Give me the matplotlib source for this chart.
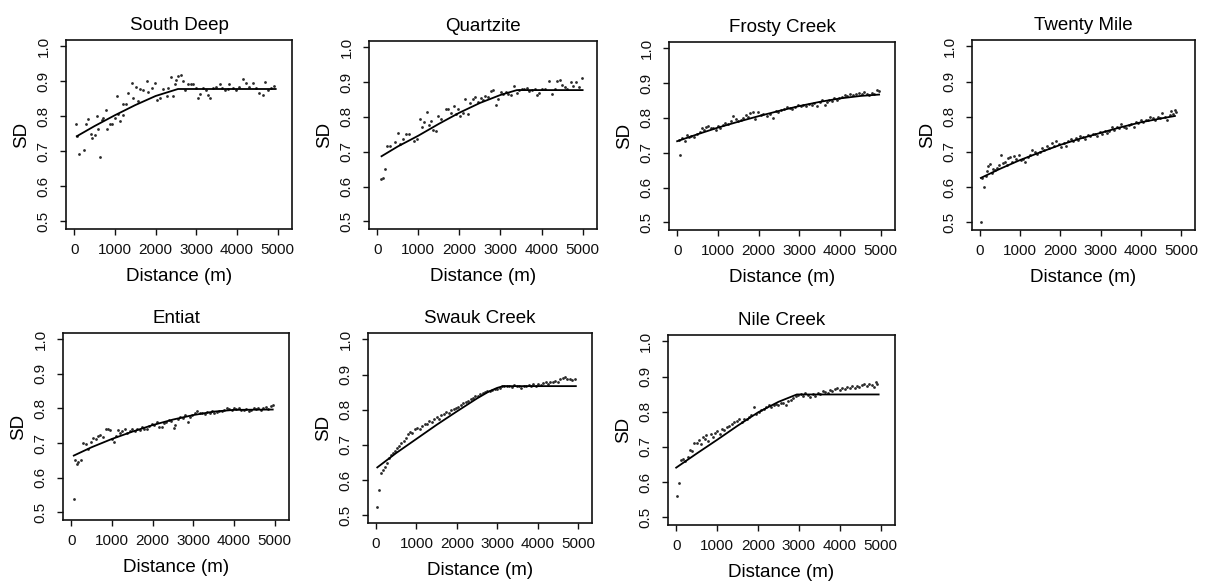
import matplotlib
matplotlib.use("Agg")
import matplotlib.pyplot as plt

plt.rcParams['font.family'] = ['Liberation Sans', 'DejaVu Sans']

# (distance m, SD)
southDeepPts = [(50, 0.779), (110, 0.691), (65, 0.745), (230, 0.703), (290, 0.777), (350, 0.791), (410, 0.750),
                (450, 0.739), (500, 0.746), (555, 0.802), (595, 0.763), (640, 0.683), (680, 0.789), (720, 0.796),
                (785, 0.817), (815, 0.764), (880, 0.777), (920, 0.779), (1000, 0.796), (1060, 0.858), (1085, 0.807),
                (1125, 0.786), (1190, 0.803), (1205, 0.834), (1270, 0.834), (1330, 0.867), (1410, 0.896),
                (1450, 0.853), (1515, 0.885), (1575, 0.845), (1615, 0.879), (1695, 0.874), (1780, 0.901),
                (1820, 0.870), (1900, 0.880), (1980, 0.896), (2040, 0.848), (2105, 0.853), (2185, 0.877),
                (2270, 0.858), (2310, 0.882), (2390, 0.912), (2430, 0.858), (2470, 0.891), (2510, 0.903),
                (2555, 0.915), (2635, 0.918), (2675, 0.901), (2715, 0.874), (2800, 0.893), (2880, 0.893),
                (2920, 0.893), (3000, 0.882), (3040, 0.853), (3085, 0.865), (3165, 0.880), (3230, 0.874),
                (3285, 0.861), (3345, 0.853), (3410, 0.880), (3490, 0.884), (3575, 0.891), (3640, 0.880),
                (3695, 0.874), (3775, 0.877), (3815, 0.893), (3900, 0.882), (3980, 0.874), (4060, 0.884),
                (4145, 0.908), (4225, 0.896), (4305, 0.884), (4390, 0.896), (4470, 0.880), (4550, 0.867),
                (4635, 0.861), (4675, 0.899), (4755, 0.874), (4835, 0.882), (4920, 0.886)]
southDeepFit = [(65, 0.743), (500, 0.772), (1000, 0.803), (1500, 0.832), (2000, 0.858), (2550, 0.878), (4950, 0.878)]

quartzitePts = [(90, 0.622), (150, 0.624), (190, 0.650), (245, 0.715), (315, 0.717), (435, 0.729), (495, 0.755),
                (560, 0.722), (625, 0.736), (705, 0.750), (765, 0.750), (890, 0.731), (970, 0.736), (1035, 0.793),
                (1095, 0.770), (1150, 0.784), (1200, 0.814), (1260, 0.776), (1315, 0.789), (1365, 0.763),
                (1425, 0.760), (1480, 0.803), (1560, 0.793), (1670, 0.824), (1725, 0.822), (1795, 0.812),
                (1860, 0.830), (1915, 0.808), (1975, 0.824), (2025, 0.803), (2080, 0.812), (2140, 0.852),
                (2205, 0.808), (2270, 0.841), (2325, 0.852), (2385, 0.858), (2450, 0.843), (2515, 0.855),
                (2575, 0.849), (2630, 0.860), (2700, 0.857), (2765, 0.874), (2820, 0.877), (2885, 0.833),
                (2945, 0.852), (3010, 0.871), (3065, 0.865), (3125, 0.871), (3190, 0.867), (3255, 0.862),
                (3340, 0.890), (3395, 0.870), (3455, 0.877), (3520, 0.881), (3585, 0.879), (3645, 0.884),
                (3700, 0.874), (3765, 0.877), (3830, 0.879), (3900, 0.862), (3945, 0.868), (4015, 0.879),
                (4095, 0.881), (4180, 0.903), (4245, 0.865), (4325, 0.879), (4385, 0.903), (4440, 0.906),
                (4505, 0.893), (4570, 0.887), (4630, 0.881), (4710, 0.900), (4770, 0.890), (4835, 0.900),
                (4900, 0.887), (4985, 0.912)]
quartziteFit = [(105, 0.687), (500, 0.715), (1000, 0.746), (1500, 0.780), (2000, 0.812), (2500, 0.840),
                (3000, 0.863), (3400, 0.877), (5000, 0.877)]

frostyPts = [(50, 0.737), (80, 0.694), (130, 0.741), (200, 0.735), (250, 0.752), (300, 0.745), (350, 0.748),
             (420, 0.746), (480, 0.753), (550, 0.760), (600, 0.770), (650, 0.765), (700, 0.774), (760, 0.778),
             (820, 0.770), (880, 0.772), (950, 0.766), (1000, 0.778), (1050, 0.772), (1120, 0.780), (1180, 0.786),
             (1250, 0.782), (1320, 0.792), (1380, 0.805), (1440, 0.798), (1500, 0.790), (1560, 0.795),
             (1620, 0.800), (1680, 0.808), (1740, 0.804), (1800, 0.815), (1860, 0.818), (1920, 0.797),
             (1980, 0.816), (2050, 0.808), (2120, 0.810), (2200, 0.806), (2280, 0.812), (2350, 0.800),
             (2420, 0.820), (2480, 0.816), (2550, 0.822), (2620, 0.826), (2700, 0.830), (2760, 0.828),
             (2830, 0.826), (2900, 0.832), (2970, 0.836), (3040, 0.834), (3100, 0.838), (3170, 0.833),
             (3240, 0.840), (3300, 0.836), (3370, 0.842), (3440, 0.835), (3500, 0.846), (3560, 0.850),
             (3620, 0.838), (3680, 0.845), (3740, 0.852), (3800, 0.848), (3860, 0.856), (3920, 0.852),
             (3980, 0.858), (4050, 0.860), (4120, 0.866), (4180, 0.862), (4250, 0.870), (4320, 0.866),
             (4400, 0.868), (4460, 0.872), (4530, 0.869), (4600, 0.875), (4660, 0.870), (4720, 0.866),
             (4780, 0.872), (4840, 0.868), (4900, 0.880), (4950, 0.876)]
frostyFit = [(0, 0.733), (500, 0.753), (1000, 0.772), (1500, 0.789), (2000, 0.805), (2500, 0.820),
             (3000, 0.834), (3500, 0.846), (4000, 0.856), (4500, 0.863), (4960, 0.867)]

twentyMilePts = [(30, 0.500), (60, 0.625), (100, 0.600), (140, 0.632), (180, 0.645), (210, 0.660), (250, 0.666),
                 (290, 0.640), (330, 0.652), (370, 0.648), (420, 0.655), (470, 0.662), (520, 0.690), (560, 0.668),
                 (610, 0.672), (660, 0.662), (700, 0.684), (750, 0.686), (800, 0.670), (850, 0.688), (900, 0.681),
                 (960, 0.690), (1010, 0.676), (1070, 0.680), (1130, 0.672), (1190, 0.685), (1250, 0.690),
                 (1300, 0.705), (1360, 0.700), (1420, 0.694), (1480, 0.700), (1540, 0.712), (1600, 0.705),
                 (1660, 0.718), (1720, 0.710), (1780, 0.725), (1840, 0.718), (1900, 0.732), (1960, 0.722),
                 (2020, 0.715), (2080, 0.725), (2140, 0.718), (2200, 0.730), (2260, 0.738), (2320, 0.732),
                 (2380, 0.740), (2440, 0.735), (2500, 0.745), (2560, 0.742), (2620, 0.738), (2680, 0.748),
                 (2740, 0.745), (2800, 0.752), (2860, 0.750), (2920, 0.746), (2980, 0.756), (3040, 0.752),
                 (3100, 0.760), (3160, 0.754), (3220, 0.760), (3280, 0.770), (3340, 0.762), (3400, 0.772),
                 (3460, 0.768), (3520, 0.778), (3580, 0.772), (3640, 0.768), (3700, 0.775), (3760, 0.780),
                 (3820, 0.772), (3880, 0.785), (3940, 0.782), (4000, 0.790), (4060, 0.786), (4120, 0.792),
                 (4180, 0.790), (4240, 0.800), (4300, 0.796), (4360, 0.790), (4420, 0.798), (4480, 0.795),
                 (4540, 0.810), (4600, 0.800), (4660, 0.792), (4720, 0.805), (4760, 0.816), (4800, 0.808),
                 (4840, 0.820), (4870, 0.812)]
twentyMileFit = [(20, 0.626), (500, 0.652), (1000, 0.677), (1500, 0.699), (2000, 0.720), (2500, 0.738),
                 (3000, 0.754), (3500, 0.770), (4000, 0.784), (4500, 0.795), (4850, 0.802)]

entiatPts = [(60, 0.538), (100, 0.650), (140, 0.641), (180, 0.646), (250, 0.652), (300, 0.700), (360, 0.698),
             (420, 0.684), (480, 0.704), (540, 0.714), (600, 0.712), (650, 0.720), (720, 0.724), (780, 0.718),
             (850, 0.740), (900, 0.742), (950, 0.738), (1000, 0.712), (1050, 0.704), (1100, 0.722),
             (1150, 0.738), (1200, 0.730), (1260, 0.734), (1320, 0.740), (1380, 0.730), (1440, 0.736),
             (1500, 0.740), (1560, 0.735), (1620, 0.742), (1680, 0.738), (1740, 0.746), (1800, 0.740),
             (1860, 0.742), (1920, 0.750), (1980, 0.756), (2040, 0.752), (2100, 0.760), (2160, 0.748),
             (2220, 0.746), (2280, 0.758), (2340, 0.762), (2400, 0.768), (2460, 0.764), (2520, 0.744),
             (2560, 0.752), (2620, 0.770), (2680, 0.776), (2740, 0.772), (2800, 0.780), (2860, 0.762),
             (2920, 0.774), (2980, 0.782), (3040, 0.786), (3100, 0.792), (3160, 0.786), (3220, 0.788),
             (3280, 0.784), (3340, 0.790), (3400, 0.786), (3460, 0.792), (3520, 0.788), (3580, 0.790),
             (3640, 0.794), (3700, 0.792), (3760, 0.796), (3820, 0.800), (3880, 0.798), (3940, 0.796),
             (4000, 0.800), (4060, 0.798), (4120, 0.802), (4180, 0.797), (4240, 0.795), (4300, 0.798),
             (4360, 0.792), (4420, 0.796), (4480, 0.800), (4540, 0.798), (4600, 0.802), (4660, 0.796),
             (4720, 0.800), (4780, 0.804), (4840, 0.798), (4900, 0.806), (4950, 0.810)]
entiatFit = [(65, 0.664), (500, 0.688), (1000, 0.712), (1500, 0.733), (2000, 0.752), (2500, 0.768),
             (3000, 0.781), (3500, 0.791), (4000, 0.796), (4950, 0.797)]

swaukPts = [(25, 0.524), (65, 0.572), (130, 0.620), (170, 0.628), (220, 0.636), (270, 0.648), (320, 0.662),
            (370, 0.670), (420, 0.676), (470, 0.682), (520, 0.692), (570, 0.696), (620, 0.704), (680, 0.712),
            (730, 0.720), (790, 0.730), (840, 0.738), (900, 0.735), (960, 0.745), (1020, 0.748), (1080, 0.746),
            (1140, 0.755), (1200, 0.760), (1260, 0.758), (1320, 0.768), (1380, 0.766), (1440, 0.774),
            (1500, 0.778), (1560, 0.775), (1620, 0.784), (1680, 0.788), (1740, 0.793), (1800, 0.790),
            (1860, 0.798), (1920, 0.802), (1980, 0.806), (2040, 0.808), (2100, 0.814), (2160, 0.818),
            (2220, 0.822), (2280, 0.824), (2340, 0.830), (2400, 0.834), (2460, 0.838), (2520, 0.840),
            (2580, 0.844), (2640, 0.848), (2700, 0.850), (2760, 0.852), (2820, 0.854), (2880, 0.856),
            (2940, 0.858), (3000, 0.860), (3060, 0.862), (3120, 0.866), (3180, 0.868), (3240, 0.866),
            (3300, 0.868), (3360, 0.864), (3420, 0.870), (3480, 0.866), (3540, 0.868), (3600, 0.862),
            (3660, 0.866), (3720, 0.868), (3780, 0.870), (3840, 0.866), (3900, 0.872), (3960, 0.868),
            (4020, 0.874), (4080, 0.870), (4140, 0.876), (4200, 0.878), (4260, 0.874), (4320, 0.880),
            (4380, 0.878), (4440, 0.882), (4500, 0.880), (4560, 0.886), (4620, 0.890), (4680, 0.892),
            (4740, 0.888), (4800, 0.886), (4860, 0.884), (4920, 0.886)]
swaukFit = [(30, 0.636), (500, 0.677), (1000, 0.717), (1500, 0.757), (2000, 0.795), (2500, 0.832),
            (2800, 0.852), (3000, 0.862), (3150, 0.867), (4950, 0.867)]

nilePts = [(10, 0.560), (60, 0.598), (110, 0.662), (160, 0.666), (220, 0.660), (280, 0.672), (330, 0.690),
           (380, 0.688), (440, 0.712), (500, 0.710), (550, 0.720), (600, 0.708), (650, 0.728), (700, 0.722),
           (740, 0.735), (790, 0.716), (840, 0.738), (890, 0.728), (940, 0.740), (1000, 0.744), (1060, 0.738),
           (1120, 0.750), (1180, 0.748), (1240, 0.756), (1300, 0.760), (1360, 0.766), (1420, 0.770),
           (1480, 0.775), (1540, 0.778), (1600, 0.772), (1660, 0.780), (1720, 0.778), (1780, 0.786),
           (1840, 0.790), (1900, 0.812), (1960, 0.794), (2020, 0.800), (2080, 0.806), (2140, 0.808),
           (2200, 0.812), (2260, 0.818), (2320, 0.814), (2380, 0.820), (2440, 0.822), (2500, 0.818),
           (2560, 0.824), (2620, 0.826), (2680, 0.820), (2740, 0.830), (2800, 0.834), (2860, 0.840),
           (2920, 0.845), (2980, 0.848), (3040, 0.850), (3100, 0.846), (3160, 0.852), (3220, 0.848),
           (3280, 0.842), (3340, 0.850), (3400, 0.846), (3460, 0.852), (3520, 0.850), (3580, 0.860),
           (3640, 0.856), (3700, 0.854), (3760, 0.862), (3820, 0.858), (3880, 0.864), (3940, 0.866),
           (4000, 0.862), (4060, 0.868), (4120, 0.864), (4180, 0.870), (4240, 0.866), (4300, 0.872),
           (4360, 0.868), (4420, 0.874), (4480, 0.870), (4540, 0.876), (4600, 0.878), (4660, 0.872),
           (4720, 0.880), (4780, 0.876), (4840, 0.870), (4880, 0.884), (4920, 0.880)]
nileFit = [(0, 0.641), (500, 0.681), (1000, 0.720), (1500, 0.760), (2000, 0.798), (2500, 0.828),
           (2950, 0.849), (4950, 0.849)]

# panel name, points, fit, box in pixels (left, top, right, bottom)
panels = [
    ("South Deep", southDeepPts, southDeepFit, (66, 40, 292, 229)),
    ("Quartzite", quartzitePts, quartziteFit, (369, 41, 597, 229)),
    ("Frosty Creek", frostyPts, frostyFit, (669, 42, 895, 230)),
    ("Twenty Mile", twentyMilePts, twentyMileFit, (972, 40, 1195, 230)),
    ("Entiat", entiatPts, entiatFit, (63, 333, 289, 520)),
    ("Swauk Creek", swaukPts, swaukFit, (368, 333, 592, 523)),
    ("Nile Creek", nilePts, nileFit, (668, 335, 895, 525)),
]

W, H = 1206, 582
fig = plt.figure(figsize=(W / 100, H / 100), dpi=100)


def drawPanel(title, pts, fit, box):
    l, t, r, b = box
    ax = fig.add_axes([l / W, 1 - b / H, (r - l) / W, (b - t) / H])
    ax.scatter([p[0] for p in pts], [p[1] for p in pts], s=4, color="#2a2a2a", linewidths=0)
    ax.plot([p[0] for p in fit], [p[1] for p in fit], color="black", lw=1.3)
    ax.set_xlim(-200, 5350)
    ax.set_ylim(0.478, 1.018)
    ax.set_xticks([0, 1000, 2000, 3000, 4000, 5000])
    ax.set_yticks([0.5, 0.6, 0.7, 0.8, 0.9, 1.0])
    ax.tick_params(direction="out", length=4, width=1.0, labelsize=11, colors="#111111")
    ax.tick_params(axis="x", pad=6)
    ax.tick_params(axis="y", pad=7, labelrotation=90)
    for lab in ax.get_yticklabels():
        lab.set_va("center")
    for s in ax.spines.values():
        s.set_linewidth(1.2)
        s.set_color("#111111")
    ax.set_title(title, fontsize=13.5, pad=7)
    ax.set_xlabel("Distance (m)", fontsize=13.5, labelpad=8)
    ax.set_ylabel("SD", fontsize=13.5, labelpad=5)


for name, pts, fit, box in panels:
    drawPanel(name, pts, fit, box)

fig.savefig("out.png", dpi=100)
